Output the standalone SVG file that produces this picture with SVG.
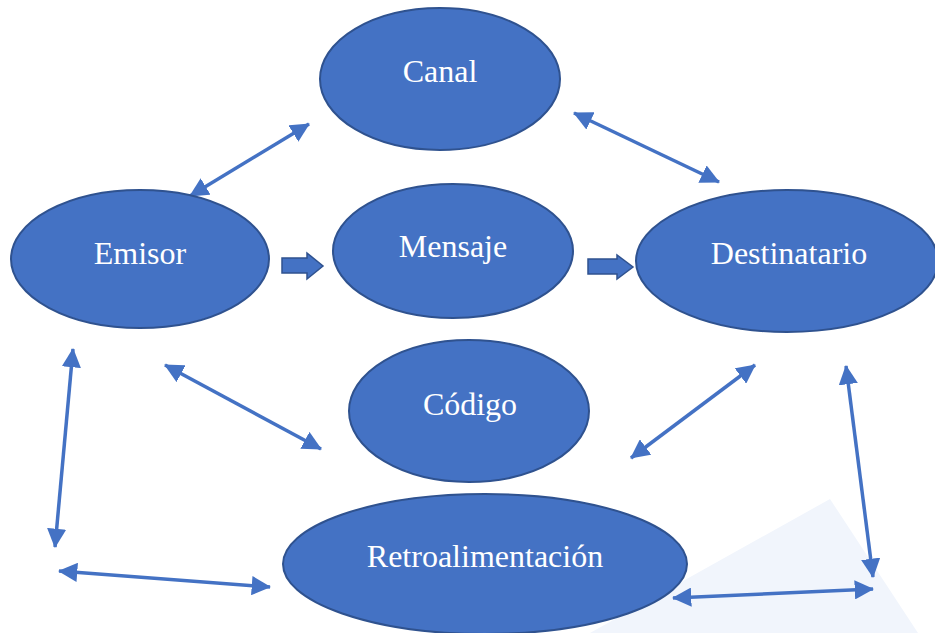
<svg xmlns="http://www.w3.org/2000/svg" width="935" height="633" viewBox="0 0 935 633">
<style>
.node{fill:#4472C4;stroke:#2F528F;stroke-width:2}
.lbl{font-family:"Liberation Serif","Times New Roman",serif;font-size:32px;fill:#FFFFFF;text-anchor:middle}
.con{stroke:#4472C4;stroke-width:3.5;fill:none;marker-start:url(#ah);marker-end:url(#ah)}
.blk{fill:#4472C4;stroke:#2F528F;stroke-width:1.5}
</style>
<defs>
<marker id="ah" viewBox="0 0 10 10" refX="9.5" refY="5" markerWidth="5.5" markerHeight="5.5" orient="auto-start-reverse">
<path d="M0,0 L10,5 L0,10 z" fill="#4472C4"/>
</marker>
</defs>
<rect width="935" height="633" fill="#FFFFFF"/>
<polygon points="830,499 590,633 918,633" fill="#F1F5FC"/>
<g id="connectors">
<line class="con" x1="190" y1="196" x2="309" y2="124"/>
<line class="con" x1="574" y1="113" x2="719" y2="182"/>
<line class="con" x1="165" y1="365" x2="321" y2="449"/>
<line class="con" x1="755" y1="365" x2="631" y2="458"/>
<line class="con" x1="73" y1="349" x2="55" y2="547"/>
<line class="con" x1="846" y1="366" x2="873" y2="577"/>
<line class="con" x1="59" y1="571" x2="270" y2="587"/>
<line class="con" x1="673" y1="598" x2="873" y2="589"/>
<polygon class="blk" points="282,258 307,258 307,253 323,266 307,279 307,273 282,273"/>
<polygon class="blk" points="588,259 617,259 617,255 633,267 617,279 617,274 588,274"/>
</g>
<g id="canal"><ellipse class="node" cx="440" cy="79" rx="120" ry="71"/><text class="lbl" x="440" y="82">Canal</text></g>
<g id="emisor"><ellipse class="node" cx="140" cy="259" rx="129" ry="69"/><text class="lbl" x="140" y="264">Emisor</text></g>
<g id="mensaje"><ellipse class="node" cx="453" cy="251" rx="120" ry="67"/><text class="lbl" x="453" y="257">Mensaje</text></g>
<g id="destinatario"><ellipse class="node" cx="787" cy="261" rx="151" ry="71"/><text class="lbl" x="789" y="264">Destinatario</text></g>
<g id="codigo"><ellipse class="node" cx="469" cy="411" rx="120" ry="71"/><text class="lbl" x="470" y="415">Código</text></g>
<g id="retroalimentacion"><ellipse class="node" cx="485" cy="564" rx="202" ry="70"/><text class="lbl" x="485" y="567">Retroalimentación</text></g>
</svg>
